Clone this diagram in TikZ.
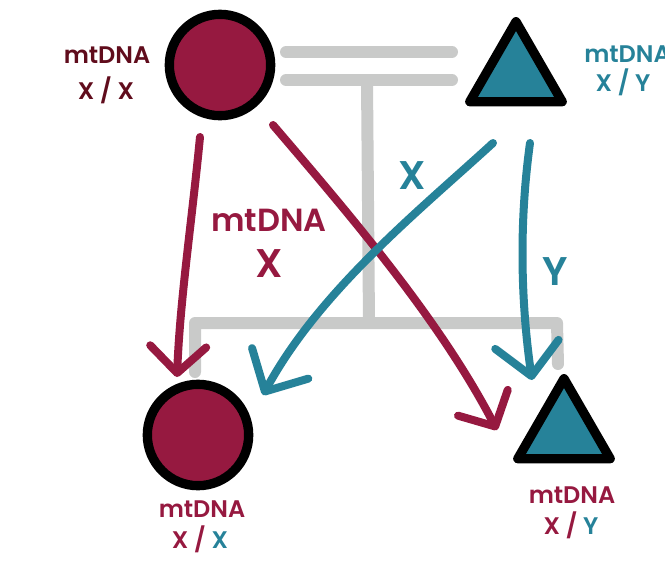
\documentclass[tikz,border=0pt]{standalone}
\usepackage{fontspec}
\setmainfont{Poppins}[BoldFont={Poppins SemiBold}]
\usetikzlibrary{arrows.meta,shapes.geometric}
\definecolor{maroon}{RGB}{150,25,64}
\definecolor{darkmaroon}{RGB}{96,12,28}
\definecolor{teal}{RGB}{38,130,153}
\definecolor{lgray}{RGB}{201,202,201}
\begin{document}
\begin{tikzpicture}[x=0.75pt,y=-0.75pt,
  femalenode/.style={circle,draw=black,fill=maroon,line width=7pt,minimum size=76pt,inner sep=0pt},
  malenode/.style={regular polygon,regular polygon sides=3,draw=black,fill=teal,line width=7pt,line join=round,minimum size=80pt,inner sep=0pt},
  pedline/.style={draw=lgray,line width=9pt,line cap=round,line join=round},
  marrow/.style={draw=maroon,line width=6pt,line cap=round,-{Straight Barb[round,length=20pt,width=42pt]}},
  tarrow/.style={draw=teal,line width=6pt,line cap=round,-{Straight Barb[round,length=24pt,width=48pt]}},
  lab/.style={font=\fontsize{18}{18}\selectfont\bfseries,inner sep=0pt,anchor=center},
  biglab/.style={font=\fontsize{24}{24}\selectfont\bfseries,inner sep=0pt,anchor=center},
  hugelab/.style={font=\fontsize{30}{30}\selectfont\bfseries,inner sep=0pt,anchor=center}
]
\useasboundingbox (0,0) rectangle (665,568);
% gray pedigree lines
\coordinate (m1a) at (286,52);
\coordinate (m1b) at (452,52);
\coordinate (m2a) at (286,80);
\coordinate (m2b) at (452,80);
\coordinate (stemtop) at (367,80);
\coordinate (stembot) at (369,323);
\coordinate (sibL) at (195,323);
\coordinate (sibR) at (557,323);
\coordinate (dropL) at (195,372);
\coordinate (dropR) at (558,364);
\draw[pedline] (m1a) -- (m1b);
\draw[pedline] (m2a) -- (m2b);
\draw[pedline] (stemtop) -- (stembot);
\draw[pedline] (dropL) -- (sibL) -- (sibR) -- (dropR);
% individuals
\node[femalenode] (mother) at (220,65) {};
\node[malenode] (father) at (516,75) {};
\node[femalenode] (daughter) at (198,435) {};
\node[malenode] (son) at (564,432) {};
% labels
\node[lab,text=darkmaroon] (mlab1) at (107,55) {mtDNA};
\node[lab,text=darkmaroon] (mlab2) at (106,90) {X / X};
\node[lab,text=teal,anchor=west] (flab1) at (584,54) {mtDNA};
\node[lab,text=teal] (flab2) at (623,82) {X / Y};
\node[lab,text=maroon] (dlab1) at (202,509) {mtDNA};
\node[lab] (dlab2) at (200,539) {\textcolor{maroon}{X /} \textcolor{teal}{X}};
\node[lab,text=maroon] (slab1) at (572,495) {mtDNA};
\node[lab] (slab2) at (571,525) {\textcolor{maroon}{X /} \textcolor{teal}{Y}};
% arrow end points
\coordinate (a1s) at (200,137);
\coordinate (a1e) at (177,377);
\coordinate (a2s) at (273,125);
\coordinate (a2e) at (497,430);
\coordinate (a3s) at (493,143);
\coordinate (a3e) at (263,395);
\coordinate (a4s) at (530,143);
\coordinate (a4e) at (532,380);
% arrows
\draw[marrow] (a1s) .. controls (192,220) and (180,300) .. (a1e);
\draw[marrow] (a2s) .. controls (350,215) and (440,320) .. (a2e);
\draw[tarrow] (a3s) .. controls (420,210) and (320,290) .. (a3e);
\draw[tarrow] (a4s) .. controls (518,230) and (522,310) .. (a4e);
% arrow labels
\node[biglab,text=maroon] (xlab1) at (269,220) {mtDNA};
\node[hugelab,text=maroon] (xlab2) at (269,264) {X};
\node[hugelab,text=teal] (xlab3) at (412,176) {X};
\node[hugelab,text=teal] (ylab) at (555,272) {Y};
\end{tikzpicture}
\end{document}
